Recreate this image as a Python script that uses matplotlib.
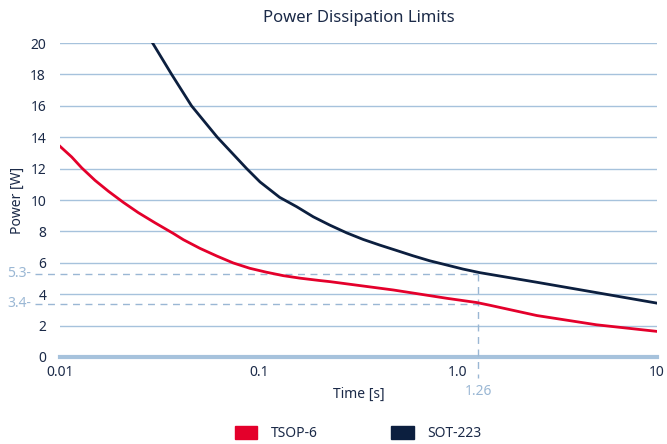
import matplotlib
matplotlib.use("Agg")
import matplotlib.pyplot as plt
from matplotlib.patches import Patch

# values
tsop_t = [0.01, 0.01145, 0.01285, 0.015, 0.0175, 0.0208, 0.0247, 0.030, 0.0371, 0.0417,
          0.0505, 0.0614, 0.0742, 0.0899, 0.109, 0.1325, 0.161, 0.202, 0.227, 0.472,
          0.877, 1.24, 1.44, 2.49, 4.97, 10.0]
tsop_p = [13.42, 12.74, 12.05, 11.25, 10.56, 9.85, 9.2, 8.55, 7.87, 7.47,
          6.92, 6.43, 5.99, 5.65, 5.4, 5.18, 5.02, 4.87, 4.8, 4.27,
          3.74, 3.47, 3.3, 2.64, 2.05, 1.63]

sot_t = [0.0292, 0.0364, 0.0458, 0.0617, 0.0867, 0.1012, 0.127, 0.1548, 0.1874, 0.227,
         0.2755, 0.3335, 0.404, 0.49, 0.593, 0.72, 0.877, 1.06, 1.29, 2.49, 4.97, 10.0]
sot_p = [20.0, 18.0, 16.0, 14.0, 12.0, 11.15, 10.17, 9.57, 8.93, 8.4,
         7.91, 7.49, 7.13, 6.79, 6.45, 6.13, 5.86, 5.6, 5.37, 4.76, 4.1, 3.43]

y_ticks = [0, 2, 4, 6, 8, 10, 12, 14, 16, 18, 20]
x_ticks = [0.01, 0.1, 1.0, 10]
x_labels = ["0.01", "0.1", "1.0", "10"]

mark_t = 1.26
mark_p = [5.3, 3.4]

RED = "#e4002b"
NAVY = "#0c1f3f"
GRID = "#a6c2dc"
NOTE = "#9ab7d4"
TXT = "#1b2a48"

plt.rcParams["font.family"] = ["Noto Sans", "DejaVu Sans"]

fig = plt.figure(figsize=(6.67, 4.44), dpi=100)
ax = fig.add_axes([0.09, 0.196, 0.895, 0.707])

ax.set_xscale("log")
ax.set_xlim(0.01, 10)
ax.set_ylim(0, 20)

for y in y_ticks[1:]:
    ax.axhline(y, color=GRID, lw=1, zorder=1)
ax.axhline(0, color=GRID, lw=3, zorder=1, clip_on=False)

ax.plot(tsop_t, tsop_p, color=RED, lw=2, zorder=3, solid_joinstyle="round")
ax.plot(sot_t, sot_p, color=NAVY, lw=2, zorder=3, solid_joinstyle="round")

# marker lines at 1.26 s
dash = (0, (5, 4))
trans = ax.get_yaxis_transform()
for p in mark_p:
    ax.plot([-0.042, 0], [p, p], transform=trans, color=NOTE, lw=1, ls=dash, clip_on=False)
    ax.plot([0.01, mark_t], [p, p], color=NOTE, lw=1, ls=dash, zorder=2)
    ax.text(-0.048, p, str(p) + "-", transform=trans, color=NOTE, fontsize=10,
            ha="right", va="center")
xtrans = ax.get_xaxis_transform()
ax.plot([mark_t, mark_t], [max(mark_p) / 20, -0.067], transform=xtrans, color=NOTE, lw=1,
        ls=dash, clip_on=False, zorder=2)
ax.text(mark_t, -0.11, "1.26", transform=xtrans, color=NOTE, fontsize=10, ha="center", va="center")

ax.set_yticks(y_ticks)
ax.set_xticks(x_ticks)
ax.set_xticklabels(x_labels)
ax.minorticks_off()
ax.tick_params(length=0, labelcolor=TXT, labelsize=10)
ax.tick_params(axis="y", pad=10)
ax.tick_params(axis="x", pad=6)
for s in ax.spines.values():
    s.set_visible(False)

ax.set_title("Power Dissipation Limits", color=TXT, fontsize=12, pad=15)
ax.set_xlabel("Time [s]", color=TXT, fontsize=10, labelpad=5)
ax.set_ylabel("Power [W]", color=TXT, fontsize=10, labelpad=4)

handles = [Patch(color=RED, label="TSOP-6"), Patch(color=NAVY, label="SOT-223")]
leg = fig.legend(handles=handles, loc="lower center", bbox_to_anchor=(0.537, -0.022), ncol=2,
                 frameon=False, fontsize=10, handlelength=1.6, handleheight=1.15,
                 columnspacing=5.3, handletextpad=1.0)
for t in leg.get_texts():
    t.set_color(TXT)

fig.savefig("out.png", dpi=100)
